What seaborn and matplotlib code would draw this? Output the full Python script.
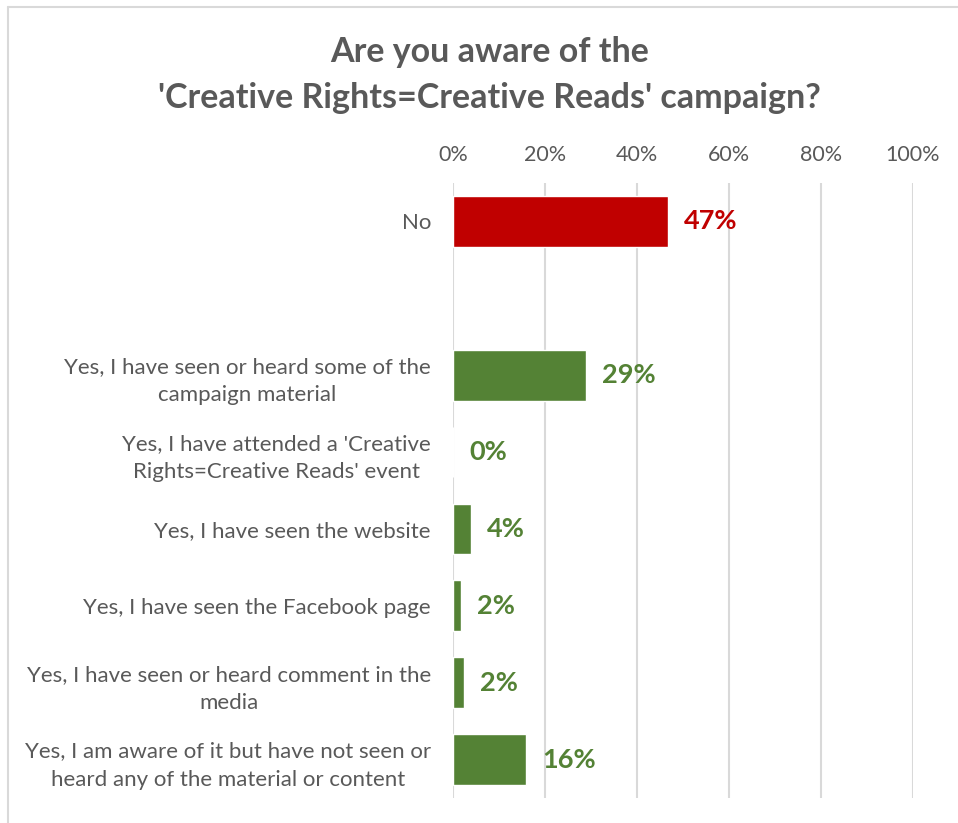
import matplotlib
matplotlib.use('Agg')
import matplotlib.pyplot as plt
import matplotlib.lines as mlines
import seaborn as sns
import pandas as pd

# chart data (share of respondents, 0-1)
categories = [
    "No",
    "",
    "Yes, I have seen or heard some of the\ncampaign material",
    "Yes, I have attended a 'Creative\nRights=Creative Reads' event",
    "Yes, I have seen the website",
    "Yes, I have seen the Facebook page",
    "Yes, I have seen or heard comment in the\nmedia",
    "Yes, I am aware of it but have not seen or\nheard any of the material or content",
]
values = [0.467, None, 0.289, 0.0, 0.038, 0.017, 0.023, 0.159]
tick_values = [0, 0.2, 0.4, 0.6, 0.8, 1.0]
tick_labels = ["0%", "20%", "40%", "60%", "80%", "100%"]
title = "Are you aware of the\n'Creative Rights=Creative Reads' campaign?"

RED = "#C00000"
GREEN = "#548235"
GREY = "#595959"

sns.set_style("white")
plt.rcParams['font.family'] = ['Lato', 'DejaVu Sans']

df = pd.DataFrame({'answer': categories, 'share': values}).dropna()
colors = {c: (RED if c == "No" else GREEN) for c in df['answer']}

fig = plt.figure(figsize=(9.58, 8.23), dpi=100)
ax = fig.add_axes([0.473, 0.0304, 0.480, 0.7472])

sns.barplot(data=df, x='share', y='answer', hue='answer', order=categories,
            palette=colors, width=0.66, legend=False, orient='h', ax=ax,
            saturation=1)

ax.set_xlim(0, 1)
ax.set_xticks(tick_values)
ax.set_xticklabels(tick_labels)
ax.xaxis.tick_top()
ax.tick_params(axis='x', length=0, pad=13, labelsize=15.5, labelcolor=GREY)
ax.tick_params(axis='y', length=0, pad=16, labelsize=16, labelcolor=GREY)
for lab in ax.get_yticklabels():
    lab.set_multialignment('center')
    lab.set_linespacing(1.5)
ax.set_xlabel('')
ax.set_ylabel('')
ax.grid(axis='x', color='#D9D9D9', linewidth=1.5)
ax.set_axisbelow(True)
for s in ax.spines.values():
    s.set_visible(False)

# data labels
for i, (cat, v) in enumerate(zip(categories, values)):
    if v is None:
        continue
    ax.annotate(f"{round(v * 100)}%", xy=(v, i), xytext=(11.5, 0),
                textcoords='offset points', va='center', ha='left',
                fontsize=19.5, fontweight='bold',
                color=RED if cat == "No" else GREEN)

fig.text(0.511, 1 - 75 / 823, title, ha='center', va='center',
         fontsize=24.5, fontweight='bold', color=GREY, linespacing=1.52)

# chart frame (left and top edges visible)
frame_color = '#D9D9D9'
fig.add_artist(mlines.Line2D([8 / 958, 8 / 958], [0, 1 - 7 / 823],
                             color=frame_color, linewidth=1.5))
fig.add_artist(mlines.Line2D([8 / 958, 1], [1 - 7 / 823, 1 - 7 / 823],
                             color=frame_color, linewidth=1.5))

fig.savefig('out.png', dpi=100)
plt.close(fig)
